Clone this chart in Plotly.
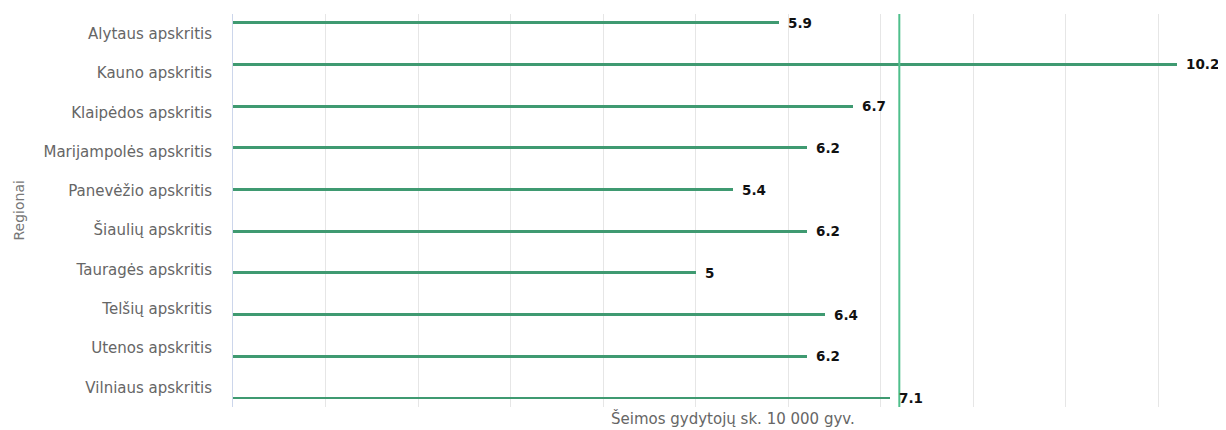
import plotly.graph_objects as go

regions = [
    "Alytaus apskritis",
    "Kauno apskritis",
    "Klaipėdos apskritis",
    "Marijampolės apskritis",
    "Panevėžio apskritis",
    "Šiaulių apskritis",
    "Tauragės apskritis",
    "Telšių apskritis",
    "Utenos apskritis",
    "Vilniaus apskritis",
]
doctors_per_10k = [5.9, 10.2, 6.7, 6.2, 5.4, 6.2, 5.0, 6.4, 6.2, 7.1]
reference_value = 7.2

x_title = "Šeimos gydytojų sk. 10 000 gyv."
y_title = "Regionai"

BAR_COLOR = "#3f9a71"
REF_COLOR = "#4fbf8c"
FONT = "DejaVu Sans"

fig = go.Figure()

# invisible trace carrying the category labels axis
fig.add_trace(go.Scatter(
    x=[0] * len(regions), y=regions, yaxis="y", mode="markers",
    marker=dict(opacity=0), hoverinfo="skip", showlegend=False,
))

fig.add_trace(go.Bar(
    x=doctors_per_10k, y=regions, yaxis="y2", orientation="h",
    width=0.068, marker=dict(color=BAR_COLOR, line=dict(width=0)),
    showlegend=False,
))

annotations = []
for r, v in zip(regions, doctors_per_10k):
    annotations.append(dict(
        x=v, y=r, xref="x", yref="y2", text=f"<b>{v:g}</b>",
        showarrow=False, xanchor="left", yanchor="middle", xshift=7,
        font=dict(family=FONT, size=13.5, color="#111111"),
    ))

annotations.append(dict(
    x=0.5, y=0, xref="paper", yref="paper", text=x_title, showarrow=False,
    xanchor="center", yanchor="middle", yshift=-11, xshift=3,
    font=dict(family=FONT, size=15, color="#666666"),
))
annotations.append(dict(
    x=0, y=0.5, xref="paper", yref="paper", text=y_title, showarrow=False,
    xanchor="center", yanchor="middle", xshift=-215, textangle=-90,
    font=dict(family=FONT, size=14, color="#777777"),
))

fig.add_shape(
    type="line", x0=reference_value, x1=reference_value, y0=0, y1=1,
    xref="x", yref="paper", line=dict(color=REF_COLOR, width=2),
)

fig.update_layout(
    width=1218, height=422,
    margin=dict(l=225, r=0, t=6, b=23),
    paper_bgcolor="white", plot_bgcolor="white",
    bargap=0,
    annotations=annotations,
    xaxis=dict(
        range=[0, 10.73], dtick=1, tick0=0, showgrid=True, gridcolor="#e6e6e6",
        gridwidth=1, showticklabels=False, zeroline=False, showline=False,
        fixedrange=True,
    ),
    yaxis=dict(
        type="category", categoryorder="array", categoryarray=regions,
        range=[9.5, -0.5], showgrid=False, showline=True, linecolor="#ccd6eb",
        linewidth=1, ticks="", ticklabelstandoff=17,
        tickfont=dict(family=FONT, size=15, color="#666666"),
        zeroline=False, automargin=False,
    ),
    yaxis2=dict(
        type="category", categoryorder="array", categoryarray=regions,
        overlaying="y", range=[9.216, -0.209], showgrid=False,
        showticklabels=False, showline=False, zeroline=False, visible=False,
    ),
)

fig.write_html("out.html")
